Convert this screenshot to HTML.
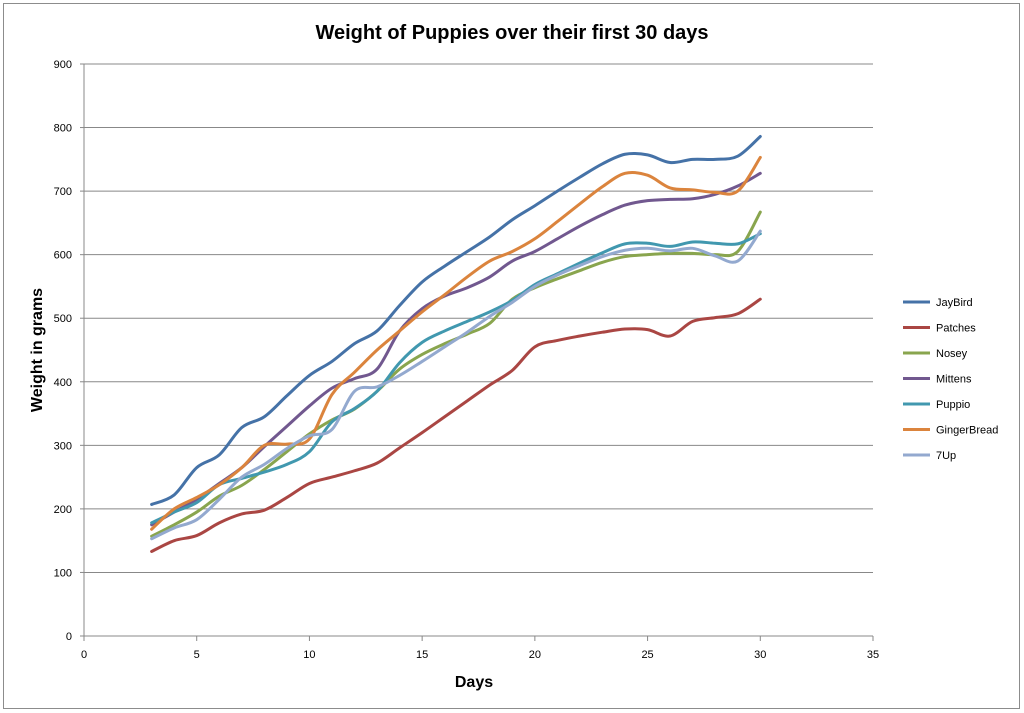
<!DOCTYPE html>
<html><head><meta charset="utf-8"><style>
html,body{margin:0;padding:0;background:#fff;}
svg{display:block;font-family:"Liberation Sans",sans-serif;}
</style></head><body>
<svg id="s" width="1024" height="713" viewBox="0 0 1024 713" xmlns="http://www.w3.org/2000/svg">
<rect x="3.5" y="3.5" width="1016" height="705" fill="#fff" stroke="#8c8c8c"/>
<text x="512" y="39" text-anchor="middle" font-size="20" font-weight="bold">Weight of Puppies over their first 30 days</text>
<g id="grid"></g>
<g id="series"></g>
<text x="474" y="687" text-anchor="middle" font-size="16" font-weight="bold">Days</text>
<text transform="translate(42,350) rotate(-90)" text-anchor="middle" font-size="16" font-weight="bold">Weight in grams</text>
<g id="legend" font-size="11"></g>
</svg>
<script>
var ns="http://www.w3.org/2000/svg";
function el(t,a,p,txt){var e=document.createElementNS(ns,t);for(var k in a)e.setAttribute(k,a[k]);if(txt!=null)e.textContent=txt;p.appendChild(e);return e;}
function X(d){return 84+d*22.543;}
function Y(v){return 636-v*0.63556;}
var g=document.getElementById('grid');
for(var v=100;v<=900;v+=100){el('line',{x1:84,x2:873,y1:Y(v),y2:Y(v),stroke:'#888','stroke-width':1},g);}
el('line',{x1:84,x2:84,y1:64,y2:636,stroke:'#888'},g);
el('line',{x1:84,x2:873,y1:636,y2:636,stroke:'#888'},g);
for(var v=0;v<=900;v+=100){el('line',{x1:80,x2:84,y1:Y(v),y2:Y(v),stroke:'#888'},g);el('text',{x:72,y:Y(v)+4,'text-anchor':'end','font-size':11},g,v);}
for(var d=0;d<=35;d+=5){el('line',{x1:X(d),x2:X(d),y1:636,y2:641,stroke:'#888'},g);el('text',{x:X(d),y:658,'text-anchor':'middle','font-size':11},g,d);}
var S=[
["JayBird","#4572a7",[207,222,265,285,328,345,378,410,432,460,480,520,557,582,605,628,655,677,700,722,743,758,757,745,750,750,755,786]],
["Patches","#aa4643",[133,150,158,178,192,198,218,240,250,260,272,296,320,345,370,395,418,455,465,472,478,483,482,472,495,501,507,530]],
["Nosey","#89a54e",[157,175,195,220,237,262,290,318,340,357,385,420,443,460,475,492,530,548,562,575,588,597,600,602,602,600,605,667]],
["Mittens","#71588f",[175,195,215,240,265,298,330,362,390,405,420,480,515,535,548,565,590,605,625,645,663,678,685,687,688,695,708,728]],
["Puppio","#4198af",[178,195,210,238,248,258,270,290,337,358,385,430,462,480,495,510,528,553,570,587,603,617,618,613,620,618,617,633]],
["GingerBread","#db843d",[168,200,218,238,265,300,302,310,380,415,450,480,510,537,565,590,605,625,652,680,707,728,725,705,702,698,700,753]],
["7Up","#93a9cf",[153,170,183,215,250,270,295,315,325,385,392,410,432,455,478,503,525,550,568,583,597,607,610,606,610,598,590,637]]];
var sg=document.getElementById('series'),lg=document.getElementById('legend');
S.forEach(function(s,i){
 var p=s[2].map(function(v,j){return [X(j+3),Y(v)];});
 var d="M"+p[0][0]+","+p[0][1];
 for(var j=0;j<p.length-1;j++){
  var p0=p[j-1]||p[j],p1=p[j],p2=p[j+1],p3=p[j+2]||p2;
  var c1=[p1[0]+(p2[0]-p0[0])/6,p1[1]+(p2[1]-p0[1])/6],c2=[p2[0]-(p3[0]-p1[0])/6,p2[1]-(p3[1]-p1[1])/6];
  d+=" C"+c1+" "+c2+" "+p2;
 }
 el('path',{d:d,fill:'none',stroke:s[1],'stroke-width':3,'stroke-linecap':'round','stroke-linejoin':'round'},sg);
 var y=302+i*25.5;
 el('line',{x1:903,x2:930,y1:y,y2:y,stroke:s[1],'stroke-width':3},lg);
 el('text',{x:936,y:y+4},lg,s[0]);
});
</script>
</body></html>
